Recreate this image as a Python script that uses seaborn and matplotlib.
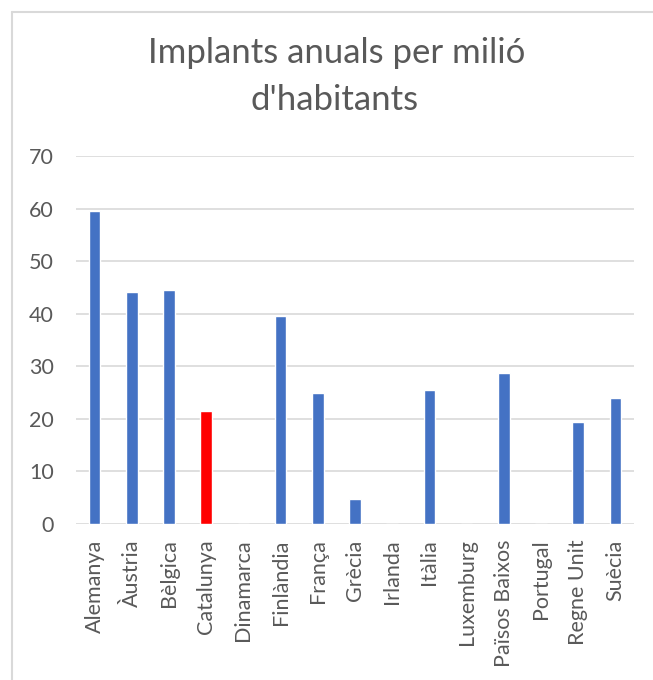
import matplotlib
matplotlib.use("Agg")
import matplotlib.pyplot as plt
import seaborn as sns
from matplotlib.lines import Line2D

categories = ["Alemanya", "Àustria", "Bèlgica", "Catalunya", "Dinamarca", "Finlàndia",
              "França", "Grècia", "Irlanda", "Itàlia", "Luxemburg", "Països Baixos",
              "Portugal", "Regne Unit", "Suècia"]
values = [59.6, 44.2, 44.5, 21.5, 0, 39.5, 25.0, 4.8, 0, 25.5, 0, 28.7, 0, 19.4, 24.0]
highlight = "Catalunya"
title_lines = ["Implants anuals per milió", "d'habitants"]
yticks = [0, 10, 20, 30, 40, 50, 60, 70]

sns.set_theme(style="white")
plt.rcParams['font.family'] = ['Lato', 'DejaVu Sans']

colors = {c: ("#FF0000" if c == highlight else "#4472C4") for c in categories}

fig = plt.figure(figsize=(6.53, 6.80), dpi=100)
ax = fig.add_axes([76/653, 1-524/680, (634-76)/653, (524-156)/680])

sns.barplot(x=categories, y=values, hue=categories, palette=colors, legend=False,
            width=0.31, ax=ax, saturation=1)

ax.set_ylim(0, 70)
ax.set_xlim(-0.5, len(categories)-0.5)
ax.set_yticks(yticks)
ax.set_yticklabels([str(t) for t in yticks])
ax.yaxis.grid(True, color="#d9d9d9", linewidth=1.2)
ax.set_axisbelow(True)
for s in ax.spines.values():
    s.set_visible(False)
ax.tick_params(axis="y", length=0, pad=16, labelsize=15.5, labelcolor="#595959")
ax.tick_params(axis="x", length=0, pad=11, labelsize=15.5, labelcolor="#595959", rotation=90)
ax.set_xlabel("")
ax.set_ylabel("")

fig.text(337/653, 1-53/680, title_lines[0], ha="center", va="center", fontsize=25,
         color="#595959")
fig.text(335/653, 1-100/680, title_lines[1], ha="center", va="center", fontsize=25,
         color="#595959")

# chart frame
fig.add_artist(Line2D([12/653, 12/653], [0, 1-12/680], color="#d9d9d9", linewidth=1.5,
                      transform=fig.transFigure))
fig.add_artist(Line2D([12/653, 1], [1-12/680, 1-12/680], color="#d9d9d9", linewidth=1.5,
                      transform=fig.transFigure))

fig.savefig("out.png", dpi=100, facecolor="white")
